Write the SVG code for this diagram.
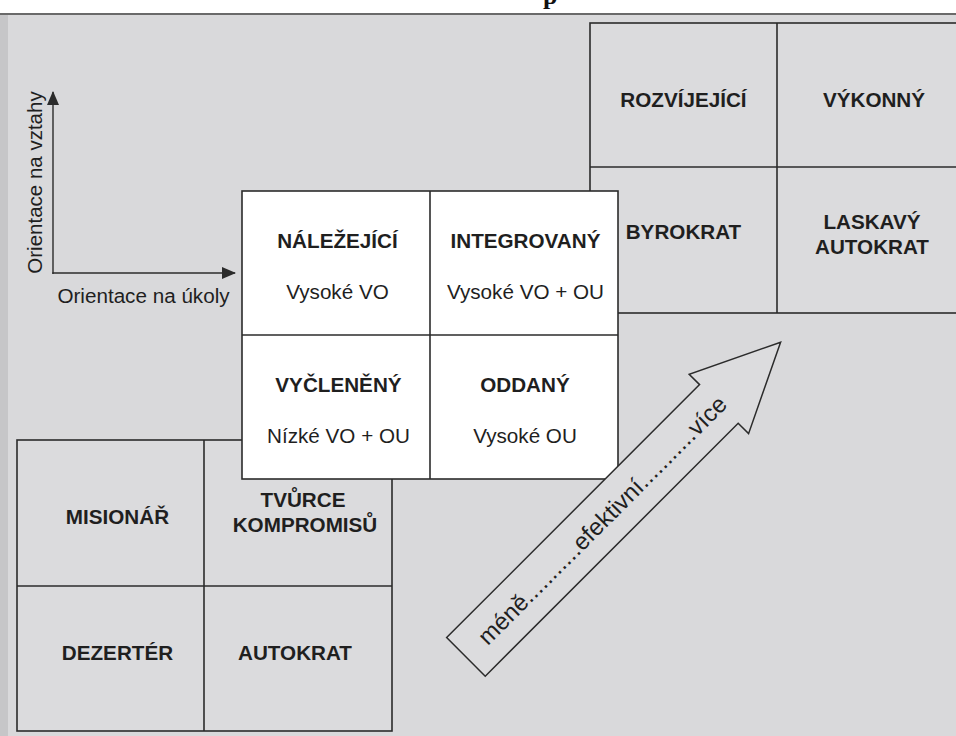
<svg xmlns="http://www.w3.org/2000/svg" width="956" height="736" viewBox="0 0 956 736">
<style>
  .ln { stroke: #2b2b2b; stroke-width: 1.6; fill: none; }
  .bx { stroke: #2b2b2b; stroke-width: 1.6; }
  .b { font-family: "Liberation Sans", Arial, sans-serif; font-weight: bold; font-size: 19.5px; fill: #1f1f1f; text-anchor: middle; transform-box: fill-box; transform-origin: center; transform: scaleX(1.06); }
  .r { font-family: "Liberation Sans", Arial, sans-serif; font-size: 19.5px; fill: #1f1f1f; text-anchor: middle; transform-box: fill-box; transform-origin: center; transform: scaleX(1.06); }
  .ax { font-family: "Liberation Sans", Arial, sans-serif; font-size: 20.5px; fill: #1f1f1f; text-anchor: middle; }
  .ar { font-family: "Liberation Sans", Arial, sans-serif; font-size: 24px; fill: #1f1f1f; text-anchor: middle; }
</style>
<defs>
  <marker id="ah" viewBox="0 0 14 12" refX="13" refY="6" markerWidth="14" markerHeight="12" markerUnits="userSpaceOnUse" orient="auto">
    <path d="M0,0 L14,6 L0,12 z" fill="#2b2b2b"/>
  </marker>
</defs>

<!-- page -->
<rect x="0" y="0" width="956" height="736" fill="#ffffff"/>
<rect x="0" y="14" width="956" height="722" fill="#d9d9db"/>
<rect x="0" y="14" width="8" height="722" fill="#c6c6c8"/>
<line x1="0" y1="14" x2="956" y2="14" stroke="#6a6a6a" stroke-width="2"/>
<text x="543" y="4" font-family="Liberation Serif, serif" font-weight="bold" font-size="26" fill="#111">p</text>

<!-- top-right grid -->
<g id="grid-top-right">
  <rect class="bx" x="590" y="23" width="380" height="290" fill="#dbdbdd"/>
  <line class="ln" x1="777" y1="23" x2="777" y2="313"/>
  <line class="ln" x1="590" y1="167" x2="956" y2="167"/>
  <text class="b" x="683.5" y="107">ROZVÍJEJÍCÍ</text>
  <text class="b" x="874" y="107">VÝKONNÝ</text>
  <text class="b" x="683.5" y="239">BYROKRAT</text>
  <text class="b" x="872" y="229">LASKAVÝ</text>
  <text class="b" x="872" y="254">AUTOKRAT</text>
</g>

<!-- bottom-left grid -->
<g id="grid-bottom-left">
  <rect class="bx" x="17" y="440" width="375" height="291" fill="#dbdbdd"/>
  <line class="ln" x1="204" y1="440" x2="204" y2="731"/>
  <line class="ln" x1="17" y1="586" x2="392" y2="586"/>
  <text class="b" x="117.5" y="524">MISIONÁŘ</text>
  <text class="b" x="303" y="507.5">TVŮRCE</text>
  <text class="b" x="305" y="532.5">KOMPROMISŮ</text>
  <text class="b" x="117.5" y="660">DEZERTÉR</text>
  <text class="b" x="295" y="660">AUTOKRAT</text>
</g>

<!-- central grid -->
<g id="grid-center">
  <rect class="bx" x="242" y="191" width="376" height="288" fill="#ffffff"/>
  <line class="ln" x1="430" y1="191" x2="430" y2="479"/>
  <line class="ln" x1="242" y1="335" x2="618" y2="335"/>
  <text class="b" x="337.5" y="248.5">NÁLEŽEJÍCÍ</text>
  <text class="r" x="337.5" y="299.5">Vysoké VO</text>
  <text class="b" x="525.5" y="248.5">INTEGROVANÝ</text>
  <text class="r" x="525.5" y="299.5">Vysoké VO + OU</text>
  <text class="b" x="338.5" y="392.5">VYČLENĚNÝ</text>
  <text class="r" x="338.5" y="443.5">Nízké VO + OU</text>
  <text class="b" x="525" y="392.5">ODDANÝ</text>
  <text class="r" x="525" y="443.5">Vysoké OU</text>
</g>

<!-- axes -->
<g id="connectors">
  <line x1="53" y1="274" x2="53" y2="92" stroke="#2b2b2b" stroke-width="1.4" marker-end="url(#ah)"/>
  <line x1="52.3" y1="273" x2="235" y2="273" stroke="#2b2b2b" stroke-width="1.4" marker-end="url(#ah)"/>
</g>
<g id="axis-labels">
  <text class="ax" transform="translate(42,182.5) rotate(-90)">Orientace na vztahy</text>
  <text class="r" x="143.5" y="303">Orientace na úkoly</text>
</g>

<!-- effectiveness arrow -->
<g id="effectiveness-arrow" transform="translate(561.4,561.4) rotate(-45)">
  <polygon points="-135,-27.3 222.7,-27.3 222.7,-42 310,0 222.7,42 222.7,27.3 -135,27.3" fill="#dcdcde" stroke="#2b2b2b" stroke-width="1.5" stroke-linejoin="miter"/>
  <text class="ar" x="58" y="8">méně...........efektivní...........více</text>
</g>
</svg>
